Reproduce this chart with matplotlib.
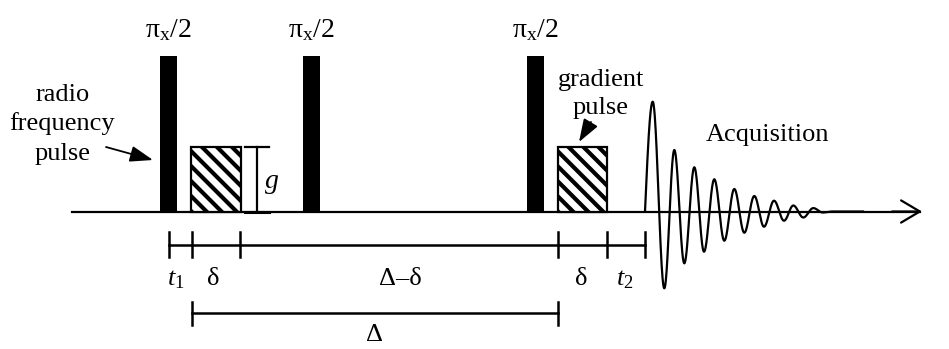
import numpy as np
import matplotlib
matplotlib.use("Agg")
import matplotlib.pyplot as plt
from matplotlib.patches import Rectangle

plt.rcParams['font.family'] = ['Liberation Serif', 'DejaVu Serif']
plt.rcParams['mathtext.fontset'] = 'custom'
plt.rcParams['mathtext.rm'] = 'Liberation Serif'
plt.rcParams['mathtext.it'] = 'Liberation Serif:italic'

# --- sequence layout (time axis runs left to right, drawing units) ---
baseline_y = 211.5
axis_start, axis_end = 72, 922

rf_centers = [168.5, 311.5, 535.5]          # three pi/2 pulses
rf_labels = [r'$\mathrm{\pi_x/2}$'] * 3
rf_width = 17
rf_top = 56

grad_starts = [191.5, 558]                  # gradient pulses
grad_width = 49.5
grad_top = 146.5

# timing bar events and their labels
timing_ticks = [169, 192, 240, 558, 607, 645]
timing_labels = [r'$t_1$', 'δ', 'Δ–δ', 'δ', r'$t_2$']
timing_y = 244.5
big_delta = (192, 558)
big_delta_y = 313

# FID extrema: (time, amplitude above baseline)
fid_t = [645, 652.7, 664.3, 674.3, 684.3, 694.3, 704, 714.3, 724.3, 734.3,
         744.3, 754.3, 764, 774, 784, 793.3, 803.3, 813.3, 822.7, 832]
fid_a = [0, 109.8, -76.8, 61.5, -51.8, 44.2, -40.2, 32.2, -29.2, 22.5,
         -21.2, 15.5, -15.2, 10.8, -9.2, 6.0, -6.0, 3.4, -1.0, 0]
fid_end = 863

fig = plt.figure(figsize=(9.49, 3.49), dpi=100)
ax = fig.add_axes([0, 0, 1, 1])
ax.set_xlim(0, 949)
ax.set_ylim(349, 0)
ax.axis('off')

LW = 1.6
FS = 19

# time axis with open arrow head
ax.plot([axis_start, axis_end - 2], [baseline_y, baseline_y], color='black', lw=LW, zorder=1)
ax.annotate('', xy=(axis_end, baseline_y), xytext=(axis_end - 30, baseline_y),
            arrowprops=dict(arrowstyle='->, head_length=1.35, head_width=0.8',
                            lw=LW, color='black', mutation_scale=10,
                            shrinkA=0, shrinkB=0))

# RF pulses
for c, lab in zip(rf_centers, rf_labels):
    ax.add_patch(Rectangle((c - rf_width / 2, rf_top), rf_width, baseline_y - rf_top,
                           facecolor='black', edgecolor='none', zorder=3))
    ax.text(c, 37, lab, ha='center', va='baseline', fontsize=FS + 1)

# gradient pulses with diagonal stripes
stripe_step = 15
for s in grad_starts:
    h = baseline_y - grad_top
    box = Rectangle((s, grad_top), grad_width, h, facecolor='white',
                    edgecolor='none', zorder=2)
    ax.add_patch(box)
    for c0 in np.arange(-h, grad_width + stripe_step, stripe_step):
        ln, = ax.plot([s + c0, s + c0 + h + 5], [grad_top, baseline_y + 5],
                      color='black', lw=3.0, solid_capstyle='butt', zorder=3)
        ln.set_clip_path(box)
    ax.add_patch(Rectangle((s, grad_top), grad_width, h, facecolor='none',
                           edgecolor='black', lw=LW, zorder=4))

# gradient amplitude marker
gx = 256.7
ax.plot([gx, gx], [grad_top, baseline_y], color='black', lw=LW)
ax.plot([245, 269], [grad_top, grad_top], color='black', lw=LW)
ax.plot([245, 269], [baseline_y, baseline_y], color='black', lw=LW + 0.6)
ax.text(272, 188, r'$g$', ha='center', va='baseline', fontsize=FS + 1)

# FID built from half-cosine lobes between extrema
xs, ys = [], []
for i in range(len(fid_t) - 1):
    t0, t1 = fid_t[i], fid_t[i + 1]
    a0, a1 = fid_a[i], fid_a[i + 1]
    u = np.linspace(0, 1, 40)
    if i == 0:
        seg = a1 * np.sin(np.pi / 2 * u)
    else:
        seg = (a0 + a1) / 2 + (a0 - a1) / 2 * np.cos(np.pi * u)
    xs.extend(t0 + (t1 - t0) * u)
    ys.extend(seg)
xs.append(fid_end)
ys.append(0)
ax.plot(xs, baseline_y - np.array(ys), color='black', lw=LW, zorder=5)
ax.text(767, 141, 'Acquisition', ha='center', va='baseline', fontsize=FS)

# timing bar
ax.plot([timing_ticks[0], timing_ticks[-1]], [timing_y, timing_y], color='black', lw=LW + 0.2)
for t in timing_ticks:
    ax.plot([t, t], [timing_y - 12.5, timing_y + 12.5], color='black', lw=LW + 0.2)
label_x = [176, 213, 400, 581, 625]
for x, lab in zip(label_x, timing_labels):
    ax.text(x, 285, lab, ha='center', va='baseline', fontsize=FS)

# big Delta bar
ax.plot(list(big_delta), [big_delta_y, big_delta_y], color='black', lw=LW + 0.2)
for t in big_delta:
    ax.plot([t, t], [big_delta_y - 11.5, big_delta_y + 11.5], color='black', lw=LW + 0.2)
ax.text(375, 341, 'Δ', ha='center', va='baseline', fontsize=FS)

# annotations
for y, line in zip([101, 130, 160], ['radio', 'frequency', 'pulse']):
    ax.text(62.5, y, line, ha='center', va='baseline', fontsize=FS)
ax.annotate('', xy=(153, 160), xytext=(106, 147),
            arrowprops=dict(arrowstyle='-|>, head_length=1.0, head_width=0.35',
                            lw=1.3, color='black', mutation_scale=14,
                            shrinkA=0, shrinkB=0))
for y, line in zip([86, 114], ['gradient', 'pulse']):
    ax.text(601, y, line, ha='center', va='baseline', fontsize=FS)
ax.annotate('', xy=(579, 142), xytext=(591, 122),
            arrowprops=dict(arrowstyle='-|>, head_length=1.0, head_width=0.35',
                            lw=1.3, color='black', mutation_scale=14,
                            shrinkA=0, shrinkB=0))

fig.savefig('out.png', dpi=100)
